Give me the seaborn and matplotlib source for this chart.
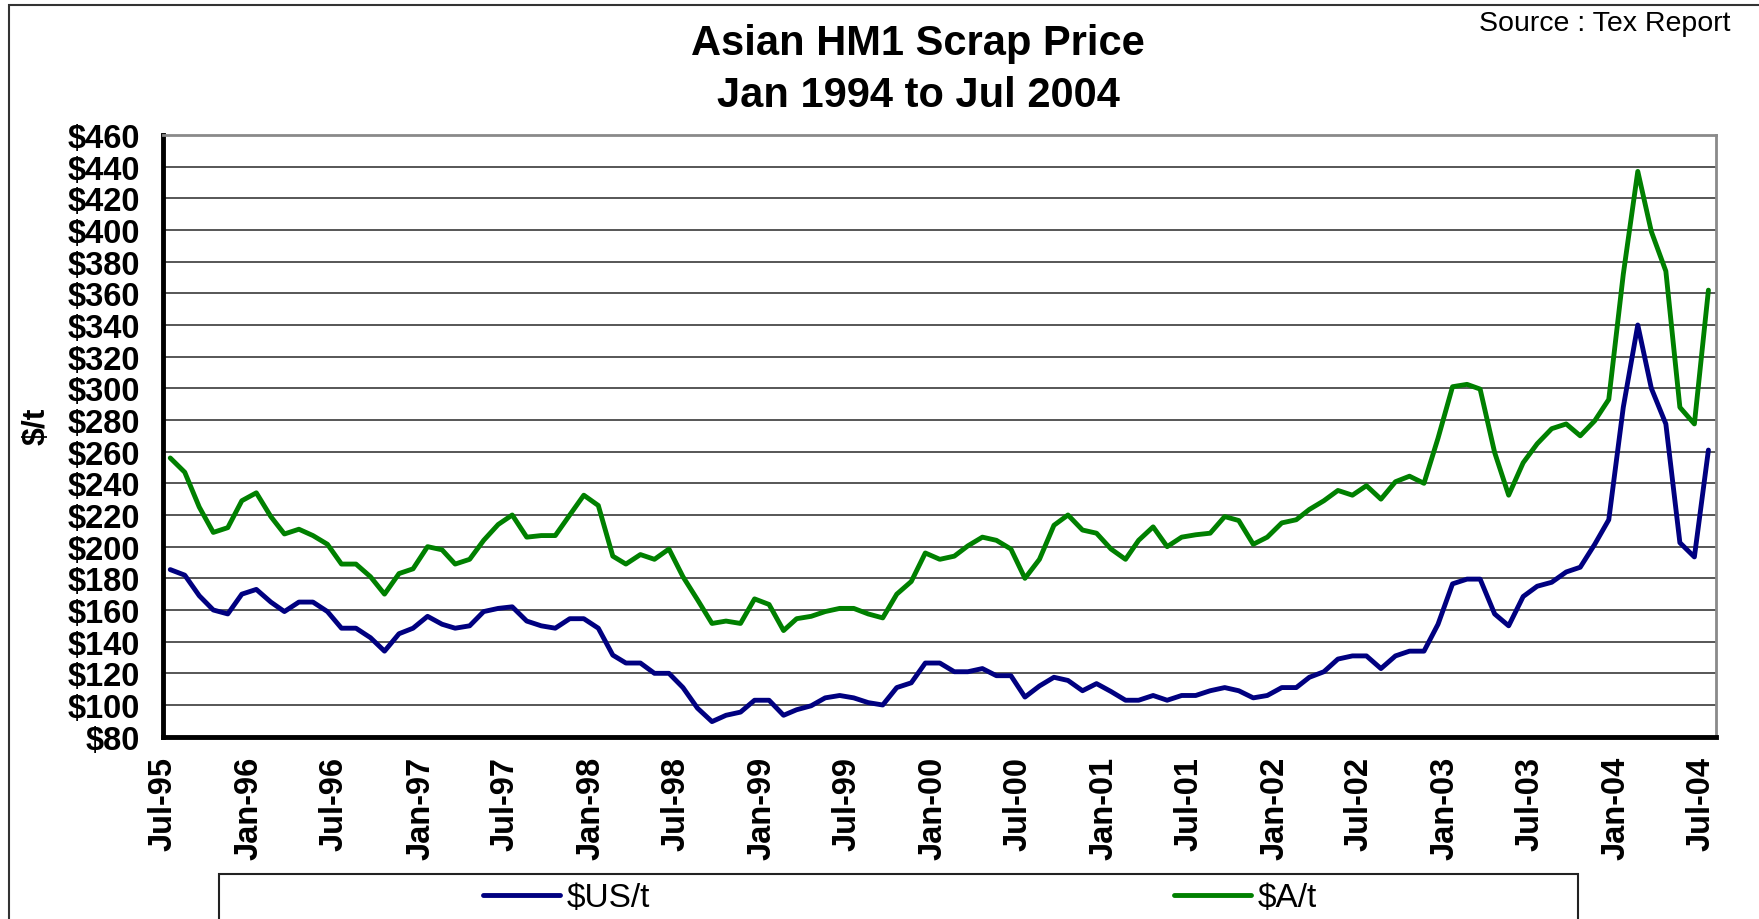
import pandas as pd
import seaborn as sns
import matplotlib.pyplot as plt
import matplotlib.dates as mdates
from matplotlib.patches import Rectangle
from matplotlib.ticker import MultipleLocator, FuncFormatter

# Monthly prices, Jul-95 .. Jul-04
START_MONTH = "1995-07-01"

usd_per_t = [
    185.5, 182, 169, 160, 157.5, 170, 173, 165, 159, 165, 165, 159,
    148.5, 148.5, 142.5, 134, 145, 148.5, 156, 151, 148.5, 150, 159, 161,
    162, 153, 150, 148.5, 154.5, 154.5, 148.5, 131.5, 126.5, 126.5, 120, 120,
    111, 98, 89.5, 93.5, 95.5, 103, 103, 93.5, 97, 99.5, 104.5, 106,
    104.5, 101.5, 100, 111, 114, 126.5, 126.5, 121, 121, 123, 118.5, 118.5,
    105, 112, 117.5, 115.5, 109, 113.5, 108.5, 103, 103, 106, 103, 106,
    106, 109, 111, 109, 104.5, 106, 111, 111, 117.5, 121, 129, 131,
    131, 123, 131, 134, 134, 151, 176.5, 179.5, 179.5, 157.5, 150, 168.5,
    175, 177.5, 184, 187, 201.5, 217, 288, 340, 300, 277.5, 202.5, 193.5,
    261,
]

aud_per_t = [
    256, 247, 225, 209, 212, 229, 234, 219, 208, 211, 207, 201.5,
    189, 189, 181, 170, 183, 186, 200, 198, 189, 192, 204, 214,
    220, 206, 207, 207, 220, 232.5, 226, 194, 189, 195, 192, 198.5,
    181, 166.5, 151.5, 153, 151.5, 167, 163.5, 147, 154.5, 156, 159, 161,
    161, 157.5, 155, 170, 178, 196, 192, 194, 200.5, 206, 204, 198.5,
    180, 192, 213.5, 220, 210.5, 208.5, 198.5, 192, 204, 212.5, 200, 206,
    207.5, 208.5, 219, 216.5, 201.5, 206, 215, 217, 223.5, 229, 235.5, 232.5,
    238.5, 230, 241, 244.5, 240, 268.5, 301, 302.5, 299.5, 259.5, 232.5, 253,
    265, 274.5, 277.5, 270, 279.5, 293, 372, 437, 399, 374, 288, 277.5,
    362,
]

series_names = ["$US/t", "$A/t"]
series_colors = ["#000080", "#008000"]

title_text = "Asian HM1 Scrap Price\nJan 1994 to Jul 2004"
source_text = "Source : Tex Report"


def build_frame() -> pd.DataFrame:
    months = pd.date_range(START_MONTH, periods=len(usd_per_t), freq="MS")
    mid = months + pd.Timedelta(days=15)
    df = pd.DataFrame({"date": mid, series_names[0]: usd_per_t, series_names[1]: aud_per_t})
    return df.melt(id_vars="date", var_name="series", value_name="price")


def main():
    df = build_frame()

    sns.set_theme(style="white")
    plt.rcParams["font.family"] = ["Liberation Sans", "DejaVu Sans"]
    plt.rcParams["text.color"] = "black"

    fig = plt.figure(figsize=(17.59, 9.2), dpi=100)
    ax = fig.add_axes([0.0928, 0.1982, 0.8827, 0.654])

    sns.lineplot(data=df, x="date", y="price", hue="series",
                 palette=dict(zip(series_names, series_colors)),
                 linewidth=3.5, ax=ax, legend=False)

    # axes ranges and ticks
    ax.set_ylim(80, 460)
    ax.yaxis.set_major_locator(MultipleLocator(20))
    ax.yaxis.set_major_formatter(FuncFormatter(lambda v, _: f"${v:.0f}"))
    ax.set_xlim(pd.Timestamp(START_MONTH), pd.Timestamp("2004-08-01"))
    ax.xaxis.set_major_locator(mdates.MonthLocator(bymonth=(1, 7)))
    ax.xaxis.set_major_formatter(mdates.DateFormatter("%b-%y"))

    ax.grid(axis="y", color="#3a3a3a", linewidth=1.2)
    ax.set_axisbelow(True)

    for side in ("top", "right"):
        ax.spines[side].set_color("#8a8a8a")
        ax.spines[side].set_linewidth(2)
    for side in ("left", "bottom"):
        ax.spines[side].set_color("black")
        ax.spines[side].set_linewidth(3.5)

    ax.tick_params(axis="both", direction="out", length=8, width=3, color="black",
                   labelsize=23.5, labelcolor="black")
    ax.tick_params(axis="y", pad=9)
    ax.tick_params(axis="x", pad=6, labelrotation=90)
    for lbl in ax.get_xticklabels() + ax.get_yticklabels():
        lbl.set_fontweight("bold")

    ax.set_xlabel("")
    ax.set_ylabel("$/t", fontsize=23, fontweight="bold", color="black")
    ax.yaxis.set_label_coords(-0.072, 0.518)

    # titles
    fig.text(0.522, 0.924, title_text, ha="center", va="center", fontsize=30,
             fontweight="bold", linespacing=1.37, color="black")
    fig.text(0.984, 0.9735, source_text, ha="right", va="center", fontsize=20.5,
             color="black")

    # outer chart border
    fig.patches.append(Rectangle((9 / 1759, -0.05), 1.1, 0.05 + 1 - 6 / 920,
                                 transform=fig.transFigure, fill=False,
                                 edgecolor="#333333", linewidth=1.5))

    # legend box along the bottom
    fig.patches.append(Rectangle((219 / 1759, -0.05), (1578 - 219) / 1759, 0.05 + 1 - 875 / 920,
                                 transform=fig.transFigure, fill=False,
                                 edgecolor="#222222", linewidth=1.5))
    lines = ax.get_lines()
    for line, name, xpos in zip(lines[:2], series_names, (483 / 1759, 1174 / 1759)):
        fig.legend([line], [name], loc="center left", bbox_to_anchor=(xpos, 1 - 899 / 920),
                   frameon=False, fontsize=24, handlelength=2.3, handletextpad=0.2,
                   borderpad=0, borderaxespad=0)

    fig.savefig("out.png", dpi=100)


if __name__ == "__main__":
    main()
